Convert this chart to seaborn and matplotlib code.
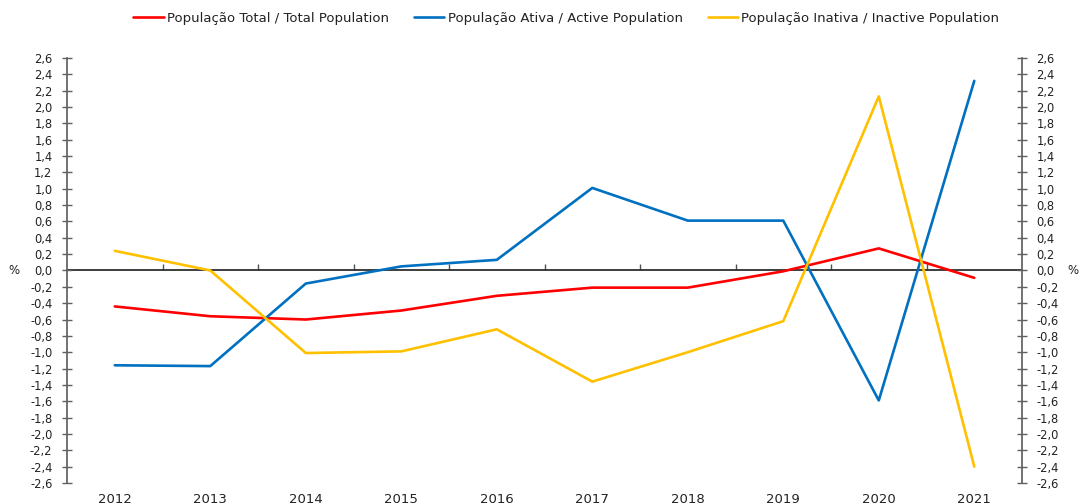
import numpy as np
import pandas as pd
import matplotlib
matplotlib.use("Agg")
import matplotlib.pyplot as plt
import seaborn as sns

# --- dados ---
anos = ['2012', '2013', '2014', '2015', '2016', '2017', '2018', '2019', '2020', '2021']
pop_total = [-0.44, -0.56, -0.60, -0.49, -0.31, -0.21, -0.21, -0.01, 0.27, -0.09]
pop_ativa = [-1.16, -1.17, -0.16, 0.05, 0.13, 1.01, 0.61, 0.61, -1.59, 2.32]
pop_inativa = [0.24, 0.0, -1.01, -0.99, -0.72, -1.36, -1.00, -0.62, 2.13, -2.40]
series = ['População Total / Total Population',
          'População Ativa / Active Population',
          'População Inativa / Inactive Population']
cores = ['#FF0000', '#0070C0', '#FFC000']

df = pd.DataFrame({
    'Ano': anos * 3,
    'Valor': pop_total + pop_ativa + pop_inativa,
    'Serie': [series[0]] * 10 + [series[1]] * 10 + [series[2]] * 10,
})

sns.set_theme(style="white")
plt.rcParams['font.family'] = ['DejaVu Sans']

fig = plt.figure(figsize=(10.83, 5.04), dpi=100)
ax = fig.add_axes([0.0619, 0.0417, 0.8818, 0.8433])

sns.lineplot(data=df, x='Ano', y='Valor', hue='Serie', palette=cores,
             linewidth=1.9, ax=ax, legend=True)

ticks = np.round(np.arange(-2.6, 2.61, 0.2), 1)
labels = [f"{t:.1f}".replace('.', ',').replace('-0,0', '0,0') for t in ticks]

ax.set_xlim(-0.5, 9.5)
ax.set_ylim(-2.6, 2.6)
ax.set_yticks(ticks)
ax.set_yticklabels(labels, fontsize=8.3, color='#222222')
ax.set_xlabel('')
ax.set_ylabel('')
ax.tick_params(axis='x', length=0, labelsize=9.5, pad=7, labelcolor='#222222')
ax.tick_params(axis='y', direction='inout', length=7, width=1, color='#606060', pad=7)

for s in ['top', 'bottom']:
    ax.spines[s].set_visible(False)
ax.spines['left'].set_color('#606060')
ax.spines['right'].set_visible(False)

# linha do zero com marcas entre as categorias
zero = ax.secondary_xaxis(0.5)
zero.set_xticks(np.arange(0.5, 9.0, 1.0))
zero.set_xticklabels([])
zero.tick_params(direction='out', length=4, width=1, color='#505050')
zero.spines['bottom'].set_color('#505050')
zero.spines['bottom'].set_linewidth(1.3)

# eixo da direita
ax2 = ax.twinx()
ax2.set_ylim(-2.6, 2.6)
ax2.set_yticks(ticks)
ax2.set_yticklabels(labels, fontsize=8.3, color='#222222')
ax2.tick_params(axis='y', direction='inout', length=7, width=1, color='#606060', pad=7)
for s in ['top', 'bottom', 'left']:
    ax2.spines[s].set_visible(False)
ax2.spines['right'].set_color('#606060')

y0 = ax.transData.transform((0, 0))[1] / fig.bbox.height
fig.text(0.008, y0, '%', fontsize=8.5, va='center', ha='left', color='#222222')
fig.text(0.986, y0, '%', fontsize=8.5, va='center', ha='left', color='#222222')

h, l = ax.get_legend_handles_labels()
ax.get_legend().remove()
leg = fig.legend(h, l, loc='center', bbox_to_anchor=(0.523, 0.964), ncol=3, frameon=False,
                 fontsize=9.5, handlelength=2.3, handletextpad=0.25, columnspacing=1.9)
for t in leg.get_texts():
    t.set_color('#222222')

fig.savefig('out.png', dpi=100)
